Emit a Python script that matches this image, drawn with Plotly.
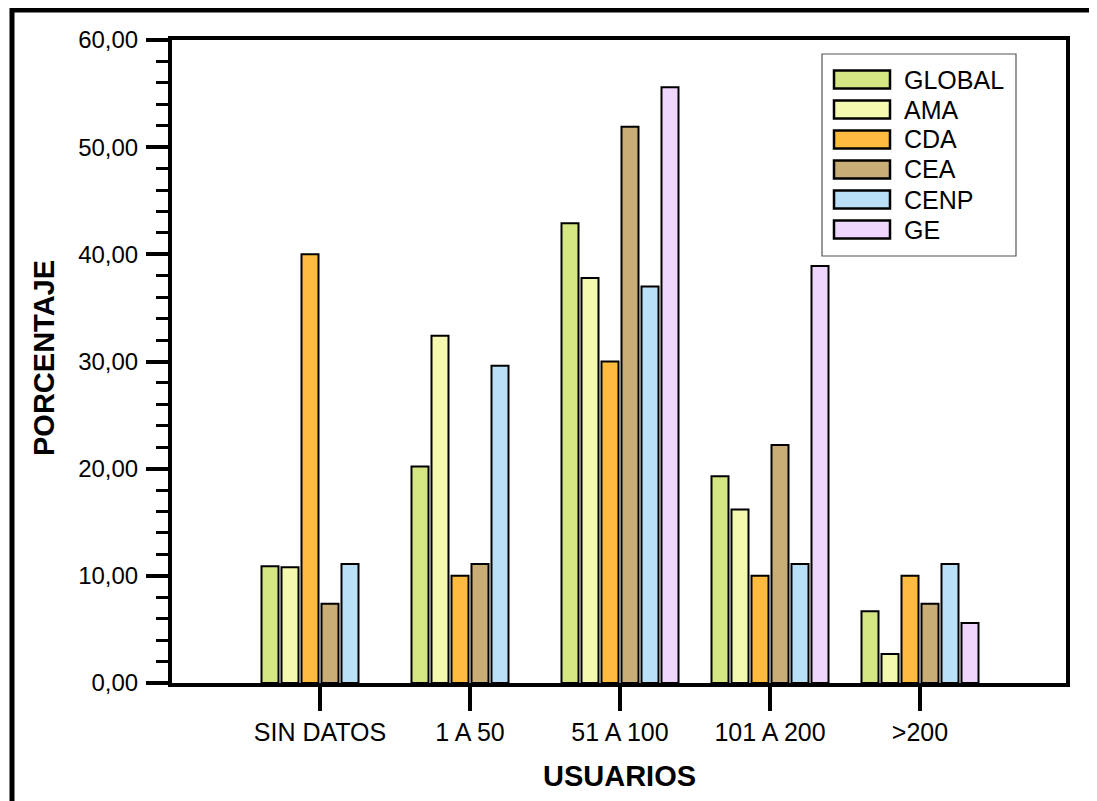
import plotly.graph_objects as go

categories = ["SIN DATOS", "1 A 50", "51 A 100", "101 A 200", ">200"]
series_names = ["GLOBAL", "AMA", "CDA", "CEA", "CENP", "GE"]
global_vals = [10.9, 20.2, 42.9, 19.3, 6.7]
ama_vals = [10.8, 32.4, 37.8, 16.2, 2.7]
cda_vals = [40.0, 10.0, 30.0, 10.0, 10.0]
cea_vals = [7.4, 11.1, 51.9, 22.2, 7.4]
cenp_vals = [11.1, 29.6, 37.0, 11.1, 11.1]
ge_vals = [None, None, 55.6, 38.9, 5.6]
series_values = [global_vals, ama_vals, cda_vals, cea_vals, cenp_vals, ge_vals]
colors = ["#D4E682", "#F5F9B0", "#FFBB40", "#C8AD76", "#BAE0F8", "#EFD6FC"]
y_ticks = [0, 10, 20, 30, 40, 50, 60]

W, H = 1097, 801
OFF = 8  # default page body margin
L, R, T, B = 172, 1066, 40, 683
FONT = "Liberation Sans, Arial, sans-serif"


def px_x(p):
    return (p - L) / (R - L)


def px_y(p):
    return (B - p) / (B - T)


fig = go.Figure()
for name, vals, col in zip(series_names, series_values, colors):
    fig.add_trace(go.Bar(
        x=categories, y=vals, name=name,
        marker=dict(color=col, line=dict(color="black", width=2)),
        showlegend=False,
    ))

# custom legend with wide swatches
shapes = []
annotations = []
shapes.append(dict(type="rect", xref="paper", yref="paper",
                   x0=px_x(822), x1=px_x(1016), y0=px_y(256), y1=px_y(54),
                   line=dict(color="#555555", width=1.2), fillcolor="white", layer="above"))
for i, (name, col) in enumerate(zip(series_names, colors)):
    cy = 79.5 + 30 * i
    shapes.append(dict(type="rect", xref="paper", yref="paper",
                       x0=px_x(834), x1=px_x(890), y0=px_y(cy + 9), y1=px_y(cy - 9),
                       line=dict(color="black", width=2.5), fillcolor=col, layer="above"))
    annotations.append(dict(xref="paper", yref="paper", x=px_x(902), y=px_y(cy),
                            xanchor="left", yanchor="middle", text=name, showarrow=False,
                            font=dict(family=FONT, size=25, color="black")))

# outer frame (left and top visible)
shapes.append(dict(type="rect", xref="paper", yref="paper",
                   x0=px_x(12), x1=px_x(1300), y0=px_y(1000), y1=px_y(10),
                   line=dict(color="black", width=5), layer="above"))

annotations.append(dict(xref="paper", yref="paper", x=px_x(619), y=px_y(776),
                        xanchor="center", yanchor="middle", text="<b>USUARIOS</b>", showarrow=False,
                        font=dict(family=FONT, size=29, color="black")))
annotations.append(dict(xref="paper", yref="paper", x=px_x(44), y=px_y(358),
                        xanchor="center", yanchor="middle", text="<b>PORCENTAJE</b>", showarrow=False,
                        textangle=-90, font=dict(family=FONT, size=29, color="black")))

fig.update_layout(
    width=W - OFF, height=H - OFF,
    margin=dict(l=L - OFF, r=W - R, t=T - OFF, b=H - B, pad=0),
    paper_bgcolor="white", plot_bgcolor="white",
    barmode="group", bargap=0.2, bargroupgap=0.15,
    separators=",.",
    font=dict(family=FONT, size=24, color="black"),
    shapes=shapes, annotations=annotations,
    showlegend=False,
)
fig.update_xaxes(
    range=[(L - 320) / 150, (R - 320) / 150],
    showline=True, linewidth=4, linecolor="black", mirror=True,
    ticks="outside", ticklen=24, tickwidth=4, tickcolor="black",
    showgrid=False, zeroline=False,
    tickfont=dict(family=FONT, size=25, color="black"),
)
fig.update_yaxes(
    range=[0, 60], tickvals=y_ticks, tickformat=".2f",
    showline=True, linewidth=4, linecolor="black", mirror=True,
    ticks="outside", ticklen=22, tickwidth=4, tickcolor="black",
    ticklabelstandoff=3,
    minor=dict(dtick=2, ticks="outside", ticklen=12, tickwidth=3, tickcolor="black", showgrid=False),
    showgrid=False, zeroline=False,
    tickfont=dict(family=FONT, size=24, color="black"),
)

fig.write_html("out.html")
